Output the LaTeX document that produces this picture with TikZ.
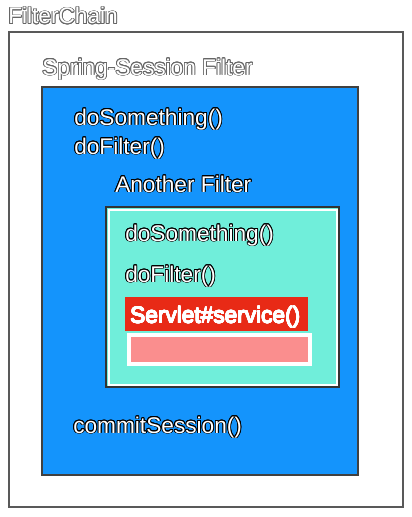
\documentclass[tikz,border=0pt]{standalone}
\usepackage{fontspec}
\setmainfont{Liberation Sans}
\usepackage{contour}
\contourlength{0.6pt}
\usetikzlibrary{positioning}

\definecolor{sessblue}{RGB}{20,148,252}
\definecolor{innercyan}{RGB}{112,238,218}
\definecolor{servletred}{RGB}{232,42,22}
\definecolor{bodypink}{RGB}{250,142,142}

\tikzset{
  call text/.style={anchor=base west, inner sep=0pt, font=\fontsize{17}{20}\selectfont},
  frame line/.style={draw=black!65, line width=1.5},
}
\newcommand{\hollow}[2][black]{{\color{white}\contour{#1}{#2}}}

\begin{document}
\begin{tikzpicture}[x=0.75pt,y=0.75pt,yscale=-1,xscale=1]
\useasboundingbox (0,0) rectangle (411,517);

%Shape: Rectangle [FilterChain frame]
\draw [frame line, fill=white] (9,32) rectangle (403,507) ;
%Shape: Rectangle [Spring-Session box]
\draw [draw=black!75, line width=0.9, fill=sessblue] (42,87) rectangle (358,475) ;
%Shape: Rectangle [Another Filter box]
\draw [draw=black!80, line width=0.9, fill=innercyan] (106,207) rectangle (339,387) ;
\draw [draw=white, line width=1.5] (108.5,209.5) rectangle (336.5,384.5) ;
%Shape: Rectangle [Servlet label]
\fill [servletred] (125,297) rectangle (308,331) ;
%Shape: Rectangle [service body]
\draw [draw=white, line width=3, fill=bodypink] (128.5,334.5) rectangle (309.5,363.5) ;

% Text Node
\node [call text] (chain) at (8,24) {\hollow[black!60]{FilterChain}};
% Text Node
\node [call text] (sessTitle) at (42,75) {\hollow[black!60]{Spring-Session Filter}};
% Text Node
\node [call text] (sessSome) at (74,125) {\hollow{doSomething()}};
% Text Node
\node [call text] (sessFilter) at (74,154) {\hollow{doFilter()}};
% Text Node
\node [call text] (anotherTitle) at (115,192) {\hollow{Another Filter}};
% Text Node
\node [call text] (anotherSome) at (125,241) {\hollow{doSomething()}};
% Text Node
\node [call text] (anotherFilter) at (125,282) {\hollow{doFilter()}};
% Text Node
\node [call text] (servlet) at (130,323) {\contourlength{0.3pt}\hollow[white]{Servlet\#service()}};
% Text Node
\node [call text] (commit) at (73,433) {\hollow{commitSession()}};
\end{tikzpicture}
\end{document}
